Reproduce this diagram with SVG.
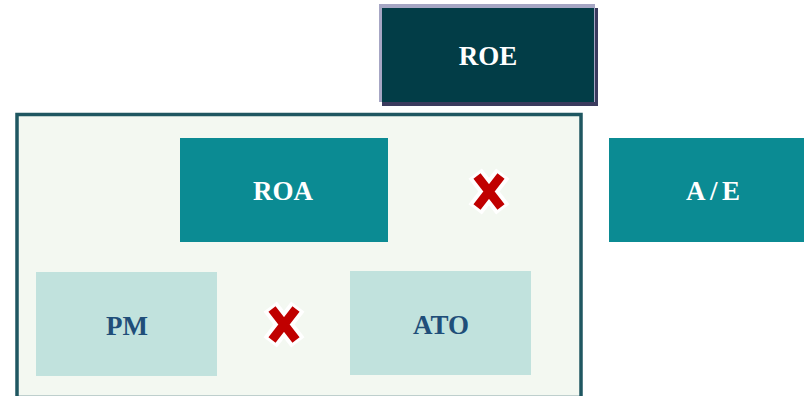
<svg xmlns="http://www.w3.org/2000/svg" width="804" height="396" viewBox="0 0 804 396">
<style>
.lbl{font-family:"Liberation Serif","Times New Roman",serif;font-weight:bold;font-size:27px;text-anchor:middle}
.w{fill:#ffffff}
.b{fill:#1f4e79}
.mid{fill:#0b8b93}
.lite{fill:#c1e2dd}
.xo{stroke:#ffffff;stroke-width:17;fill:none}
.xr{stroke:#c00000;stroke-width:9;fill:none}
</style>
<rect width="804" height="396" fill="#ffffff"/>
<g id="container">
<rect x="17" y="114.5" width="564" height="283" fill="#f3f8f1" stroke="#1f5761" stroke-width="3.5"/>
</g>
<g id="ROE">
<rect x="382" y="8" width="216" height="98" fill="#3b3b5e"/>
<rect x="379" y="4" width="216" height="98" fill="#a6a6c4"/>
<rect x="382" y="8" width="212" height="94" fill="#023d47"/>
<text class="lbl w" x="488" y="65">ROE</text>
</g>
<g id="ROA">
<rect class="mid" x="180" y="138" width="208" height="104"/>
<text class="lbl w" x="283" y="199.5">ROA</text>
</g>
<g id="AE">
<rect class="mid" x="609" y="138" width="195" height="104"/>
<text class="lbl w" x="713" y="200" textLength="54" lengthAdjust="spacing">A/E</text>
</g>
<g id="PM">
<rect class="lite" x="36" y="272" width="181" height="104"/>
<text class="lbl b" x="127" y="335">PM</text>
</g>
<g id="ATO">
<rect class="lite" x="350" y="271" width="181" height="104"/>
<text class="lbl b" x="441" y="334">ATO</text>
</g>
<g id="connectors">
<g id="x1">
<path class="xo" d="M475.2,173.6 L502.8,209.4 M502.8,173.6 L475.2,209.4"/>
<path class="xr" d="M477,176 L501,207 M501,176 L477,207"/>
</g>
<g id="x2">
<path class="xo" d="M270.2,306.6 L297.8,342.4 M297.8,306.6 L270.2,342.4"/>
<path class="xr" d="M272,309 L296,340 M296,309 L272,340"/>
</g>
</g>
</svg>
